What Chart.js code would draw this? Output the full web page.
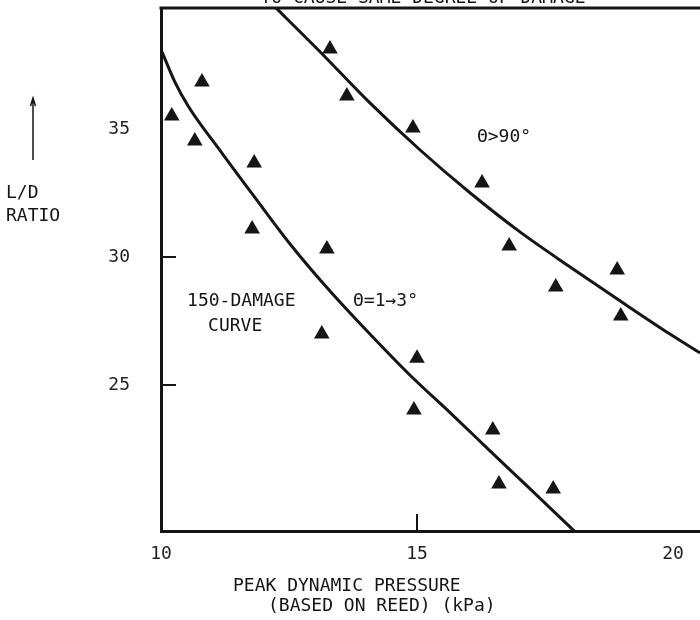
<!DOCTYPE html>
<html>
<head>
<meta charset="utf-8">
<script src="https://cdn.jsdelivr.net/npm/chart.js@4.4.1/dist/chart.umd.min.js"></script>
<style>
  html, body { margin: 0; padding: 0; background: #fff; }
  #wrap { width: 700px; height: 620px; }
</style>
</head>
<body>
<div id="wrap"><canvas id="damageChart"></canvas></div>
<script>
// L/D ratio against peak dynamic pressure
const xTicks = [10, 15, 20];
const yTicks = [25, 30, 35];
const xInnerTicks = [15];
const yInnerTicks = [25, 30];

// theta = 1..3 deg group (triangles)
const lowPressure = [10.21, 10.80, 10.66, 11.82, 11.78, 13.24, 13.14, 15.00, 14.94, 16.48, 16.60, 17.66];
const lowRatio    = [35.51, 36.84, 34.53, 33.67, 31.09, 30.31, 26.99, 26.05, 24.02, 23.24, 21.13, 20.94];

// theta > 90 deg group (triangles)
const highPressure = [13.30, 13.63, 14.92, 16.27, 16.80, 17.71, 18.91, 18.98];
const highRatio    = [38.13, 36.29, 35.04, 32.89, 30.43, 28.83, 29.49, 27.70];

// hand drawn damage curves
const lowCurveX  = [10.02, 10.27, 10.53, 11.19, 11.84, 12.52, 13.30, 14.08, 14.86, 15.65, 16.43, 17.21, 18.09];
const lowCurveY  = [38.01, 36.84, 35.90, 34.06, 32.31, 30.51, 28.67, 26.99, 25.39, 23.91, 22.42, 20.94, 19.26];
const highCurveX = [12.17, 13.11, 14.08, 15.06, 16.04, 17.01, 17.99, 18.97, 19.94, 20.53];
const highCurveY = [39.88, 38.01, 36.02, 34.18, 32.50, 30.98, 29.61, 28.28, 26.99, 26.25];

const toPoints = (xs, ys) => xs.map((x, i) => ({ x: x, y: ys[i] }));

const ink = '#151515';
const monoFont = '"DejaVu Sans Mono", monospace';

// text placed inside the plot, positioned in data units
const plotNotes = [
  { text: 'Θ>90°', x: 16.17, y: 34.69 },
  { text: '150-DAMAGE', x: 10.51, y: 28.25 },
  { text: 'CURVE', x: 10.92, y: 27.31 },
  { text: 'Θ=1→3°', x: 13.75, y: 28.25 }
];

const figureText = {
  id: 'figureText',
  afterDraw(chart) {
    const { ctx, chartArea: area, scales: { x, y } } = chart;
    ctx.save();
    ctx.strokeStyle = ink;
    ctx.fillStyle = ink;

    // top frame line
    ctx.lineWidth = 3;
    ctx.beginPath();
    ctx.moveTo(area.left - 1.5, area.top);
    ctx.lineTo(area.right, area.top);
    ctx.stroke();

    // short ticks pointing into the plot
    ctx.lineWidth = 2;
    xInnerTicks.forEach(v => {
      const px = x.getPixelForValue(v);
      ctx.beginPath();
      ctx.moveTo(px, area.bottom);
      ctx.lineTo(px, area.bottom - 17);
      ctx.stroke();
    });
    yInnerTicks.forEach(v => {
      const py = y.getPixelForValue(v);
      ctx.beginPath();
      ctx.moveTo(area.left, py);
      ctx.lineTo(area.left + 15, py);
      ctx.stroke();
    });

    ctx.font = '18px ' + monoFont;
    ctx.textBaseline = 'middle';
    ctx.textAlign = 'left';
    plotNotes.forEach(n => {
      ctx.fillText(n.text, x.getPixelForValue(n.x), y.getPixelForValue(n.y));
    });

    // heading, mostly cut off by the page edge
    ctx.textAlign = 'center';
    ctx.textBaseline = 'alphabetic';
    ctx.fillText('TO CAUSE SAME DEGREE OF DAMAGE', 423, 3);

    // y axis title with arrow
    ctx.textAlign = 'left';
    ctx.textBaseline = 'middle';
    ctx.fillText('L/D', 6, 193);
    ctx.fillText('RATIO', 6, 216);
    ctx.lineWidth = 1.5;
    ctx.beginPath();
    ctx.moveTo(33, 160);
    ctx.lineTo(33, 99);
    ctx.moveTo(30.5, 106);
    ctx.lineTo(33, 98);
    ctx.lineTo(35.5, 106);
    ctx.stroke();

    // x axis title
    ctx.fillText('PEAK DYNAMIC PRESSURE', 233, 586);
    ctx.fillText('(BASED ON REED) (kPa)', 268, 606);
    ctx.restore();
  }
};

const ctx = document.getElementById('damageChart').getContext('2d');
const damageChart = new Chart(ctx, {
  type: 'scatter',
  data: {
    datasets: [
      {
        label: 'Θ=1→3°',
        data: toPoints(lowPressure, lowRatio),
        pointStyle: 'triangle',
        pointRadius: 9,
        backgroundColor: ink,
        borderColor: ink,
        borderWidth: 0
      },
      {
        label: 'Θ>90°',
        data: toPoints(highPressure, highRatio),
        pointStyle: 'triangle',
        pointRadius: 9,
        backgroundColor: ink,
        borderColor: ink,
        borderWidth: 0
      },
      {
        label: '150-damage curve',
        data: toPoints(lowCurveX, lowCurveY),
        showLine: true,
        pointRadius: 0,
        borderColor: ink,
        borderWidth: 3,
        cubicInterpolationMode: 'monotone'
      },
      {
        label: 'Θ>90° curve',
        data: toPoints(highCurveX, highCurveY),
        showLine: true,
        pointRadius: 0,
        borderColor: ink,
        borderWidth: 3,
        cubicInterpolationMode: 'monotone'
      }
    ]
  },
  options: {
    responsive: true,
    maintainAspectRatio: false,
    animation: false,
    layout: { autoPadding: false, padding: { top: 8, left: 0, right: 0, bottom: 0 } },
    plugins: {
      legend: { display: false },
      tooltip: { enabled: false }
    },
    scales: {
      x: {
        type: 'linear',
        min: 10,
        max: 20.527,
        afterBuildTicks: s => { s.ticks = xTicks.map(v => ({ value: v })); },
        afterFit: s => { s.height = 89; s.paddingLeft = 0; s.paddingRight = 0; },
        grid: { display: false, drawTicks: false },
        border: { display: true, color: ink, width: 3 },
        ticks: {
          padding: 13,
          color: '#222',
          font: { family: monoFont, size: 18 },
          callback: v => v
        }
      },
      y: {
        type: 'linear',
        min: 19.297,
        max: 39.727,
        afterBuildTicks: s => { s.ticks = yTicks.map(v => ({ value: v })); },
        afterFit: s => { s.width = 161; s.paddingTop = 0; s.paddingBottom = 0; },
        grid: { display: false, drawTicks: false },
        border: { display: true, color: ink, width: 3 },
        ticks: {
          padding: 31,
          color: '#222',
          font: { family: monoFont, size: 18 },
          callback: v => v
        }
      }
    }
  },
  plugins: [figureText]
});
</script>
</body>
</html>
